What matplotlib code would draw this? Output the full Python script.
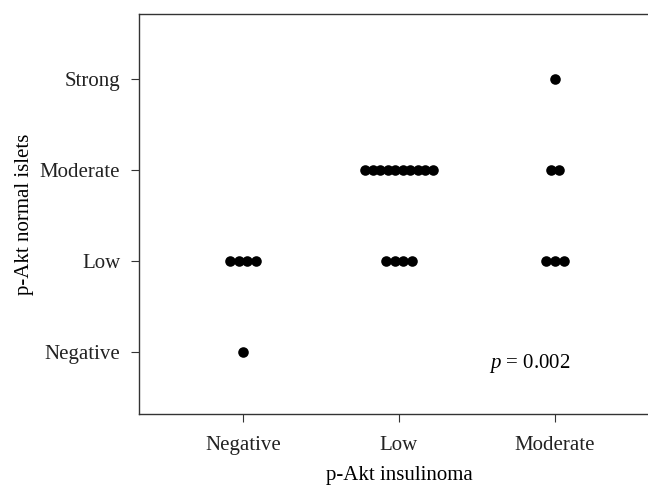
import matplotlib
matplotlib.use('Agg')
import matplotlib.pyplot as plt
from matplotlib import rcParams

# categories and counts
insulinoma_levels = ['Negative', 'Low', 'Moderate']
islet_levels = ['Negative', 'Low', 'Moderate', 'Strong']

# (insulinoma level index, islet level index, number of cases)
x_group = [1, 1, 2, 2, 3, 3, 3]
y_group = [1, 2, 2, 3, 2, 3, 4]
counts = [1, 4, 4, 10, 3, 2, 1]

p_text = '= 0.002'

FS = 15


def setup():
    rcParams['font.family'] = 'serif'
    rcParams['font.serif'] = ['Liberation Serif', 'DejaVu Serif']
    rcParams['mathtext.fontset'] = 'custom'
    rcParams['mathtext.it'] = 'Liberation Serif:italic'
    rcParams['axes.linewidth'] = 1.0
    rcParams['axes.edgecolor'] = '#333333'
    rcParams['xtick.major.size'] = 5.5
    rcParams['ytick.major.size'] = 5.5
    rcParams['xtick.major.pad'] = 10
    rcParams['ytick.major.pad'] = 8
    rcParams['xtick.color'] = '#333333'
    rcParams['ytick.color'] = '#333333'
    rcParams['xtick.labelcolor'] = '#222222'
    rcParams['ytick.labelcolor'] = '#222222'


def stacked_x(center, n):
    # stripchart style stacking of tied values
    step = 0.055 if n < 5 else 0.048
    return [center + (i - (n - 1) / 2) * step for i in range(n)]


def main():
    setup()
    fig = plt.figure(figsize=(6.48, 4.86), dpi=100)
    ax = fig.add_axes([139 / 648, 72 / 486, 520 / 648, 400 / 486])

    for xg, yg, n in zip(x_group, y_group, counts):
        xs = stacked_x(xg, n)
        ax.scatter(xs, [yg] * n, s=58, color='black', linewidths=0, zorder=3)

    ax.set_xlim(0.333, 3.667)
    ax.set_ylim(0.32, 4.71)
    ax.set_xticks(range(1, len(insulinoma_levels) + 1))
    ax.set_xticklabels(insulinoma_levels, fontsize=FS)
    ax.set_yticks(range(1, len(islet_levels) + 1))
    ax.set_yticklabels(islet_levels, fontsize=FS)
    ax.set_xlabel('p-Akt insulinoma', fontsize=FS, labelpad=8)
    ax.set_ylabel('p-Akt normal islets', fontsize=FS, labelpad=4)

    ax.text(2.575, 0.87, '$p$ ' + p_text, fontsize=FS, ha='left', va='center')

    fig.savefig('out.png', dpi=100)
    plt.close(fig)


if __name__ == '__main__':
    main()
